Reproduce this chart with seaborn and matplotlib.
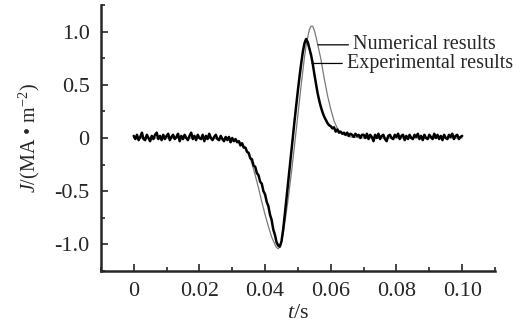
import numpy as np
import matplotlib
matplotlib.use("Agg")
import matplotlib.pyplot as plt
from matplotlib.ticker import MultipleLocator
import seaborn as sns

# DATA

# experimental current density, sampled every 0.5 ms from 0 to 0.1 s
exp_pre = [0.02, -0.01, 0.03, -0.02, 0.01, 0.05, -0.01, -0.02, 0.03, 0.00,
           -0.03, 0.02, -0.01, 0.03, 0.05, -0.01, 0.02, -0.02, 0.03, -0.01,
           0.02, 0.04, -0.02, 0.01, 0.03, -0.01, 0.01, 0.04, -0.03, 0.02,
           -0.01, 0.03, 0.00, -0.02, 0.02, 0.05, -0.01, 0.02, -0.02, 0.03,
           0.00, -0.01, 0.03, -0.03, 0.02, -0.01, 0.04, 0.00, -0.02, 0.01,
           0.03, -0.01, -0.02, 0.02, -0.01, -0.03, 0.01, -0.02, 0.01, -0.04,
           0.00]
exp_pulse = [-0.03, -0.01, -0.04, -0.03, -0.07, -0.05, -0.09, -0.09, -0.13, -0.14,
             -0.19, -0.20, -0.26, -0.27, -0.33, -0.35, -0.41, -0.43, -0.50, -0.53,
             -0.60, -0.64, -0.72, -0.77, -0.86, -0.91, -0.98, -1.01, -1.02, -0.97,
             -0.86, -0.72, -0.57, -0.42, -0.27, -0.12, 0.03, 0.17, 0.31, 0.45,
             0.58, 0.70, 0.81, 0.89, 0.93, 0.90, 0.84, 0.78, 0.70, 0.60,
             0.51, 0.42, 0.35, 0.29, 0.24, 0.20, 0.17, 0.14, 0.12, 0.11,
             0.09, 0.10, 0.06, 0.08, 0.05, 0.06, 0.04, 0.05, 0.03, 0.05,
             0.02, 0.04, 0.03, 0.01, 0.04, 0.02, 0.03, 0.00, 0.03]
exp_post = [0.03, 0.00, 0.04, -0.01, 0.03, 0.01, -0.03, 0.03, 0.00, 0.04,
            -0.01, 0.02, 0.03, -0.01, -0.03, 0.02, 0.03, 0.00, -0.01, 0.03,
            0.01, 0.04, -0.01, 0.02, 0.03, -0.02, 0.02, -0.01, 0.03, 0.00,
            -0.01, 0.03, 0.01, 0.04, -0.01, 0.02, -0.02, 0.03, 0.00, -0.01,
            0.03, 0.01, -0.01, 0.04, 0.00, 0.03, -0.01, 0.02, -0.02, 0.03,
            0.00, -0.01, 0.03, 0.01, 0.04, -0.01, 0.02, 0.03, -0.01, 0.01,
            0.02]
j_exp = exp_pre + exp_pulse + exp_post
t_exp = np.linspace(0, 0.1, len(j_exp))

# numerical result (smooth)
t_num = [0.0, 0.02, 0.030, 0.032, 0.033, 0.034, 0.035, 0.036, 0.037, 0.038,
         0.039, 0.040, 0.041, 0.042, 0.043, 0.0435, 0.044, 0.0445, 0.045, 0.0455,
         0.046, 0.047, 0.048, 0.049, 0.050, 0.051, 0.052, 0.0525, 0.053, 0.0535,
         0.054, 0.0545, 0.055, 0.0555, 0.056, 0.057, 0.058, 0.059, 0.060, 0.061,
         0.062, 0.063, 0.064, 0.066, 0.070, 0.080, 0.100]
j_num = [0.0, 0.0, -0.01, -0.03, -0.05, -0.09, -0.15, -0.24, -0.35, -0.47,
         -0.60, -0.72, -0.83, -0.93, -1.00, -1.03, -1.04, -1.02, -0.98, -0.90,
         -0.80, -0.58, -0.33, -0.06, 0.22, 0.50, 0.76, 0.87, 0.95, 1.02,
         1.05, 1.05, 1.01, 0.95, 0.88, 0.74, 0.56, 0.40, 0.27, 0.16,
         0.09, 0.05, 0.03, 0.01, 0.0, 0.0, 0.0]

x_ticks = [0, 0.02, 0.04, 0.06, 0.08, 0.10]
x_labels = ["0", "0.02", "0.04", "0.06", "0.08", "0.10"]
y_ticks = [-1.0, -0.5, 0, 0.5, 1.0]
y_labels = ["-1.0", "-0.5", "0", "0.5", "1.0"]

# STYLE

sns.set_style("ticks")
plt.rcParams["font.family"] = ["Liberation Serif", "DejaVu Serif"]
plt.rcParams["mathtext.fontset"] = "custom"
plt.rcParams["mathtext.rm"] = "Liberation Serif"
plt.rcParams["mathtext.it"] = "Liberation Serif:italic"

fig = plt.figure(figsize=(5.28, 3.27), dpi=100)
ax = fig.add_axes([0.191, 0.171, 0.7465, 0.814])

sns.lineplot(x=t_num, y=j_num, ax=ax, color="#7a7a7a", linewidth=0.9,
             estimator=None, sort=False)
sns.lineplot(x=t_exp, y=j_exp, ax=ax, color="black", linewidth=1.8,
             estimator=None, sort=False)

ax.set_xlim(-0.01, 0.11)
ax.set_ylim(-1.25, 1.25)
ax.set_xticks(x_ticks)
ax.set_xticklabels(x_labels)
ax.set_yticks(y_ticks)
ax.set_yticklabels(y_labels)
ax.xaxis.set_minor_locator(MultipleLocator(0.01))
ax.yaxis.set_minor_locator(MultipleLocator(0.25))

ax.tick_params(which="both", direction="in", width=1.2, labelsize=16, pad=8)
ax.tick_params(which="major", length=5)
ax.tick_params(which="minor", length=3)
sns.despine(ax=ax)
for s in ["left", "bottom"]:
    ax.spines[s].set_linewidth(1.8)

ax.set_xlabel("$t$/s", fontsize=16, labelpad=2)
ax.set_ylabel("$J$/(MA • m$^{-2}$)", fontsize=14.5, labelpad=9)

ax.annotate("Numerical results", xy=(0.0561, 0.875), xytext=(0.0668, 0.875),
            ha="left", va="center", fontsize=14.5,
            arrowprops=dict(arrowstyle="-", color="black", lw=0.9,
                            shrinkA=1, shrinkB=0))
ax.annotate("Experimental results", xy=(0.0543, 0.70), xytext=(0.0649, 0.70),
            ha="left", va="center", fontsize=14.5,
            arrowprops=dict(arrowstyle="-", color="black", lw=0.9,
                            shrinkA=1, shrinkB=0))

fig.savefig("out.png", dpi=100)
